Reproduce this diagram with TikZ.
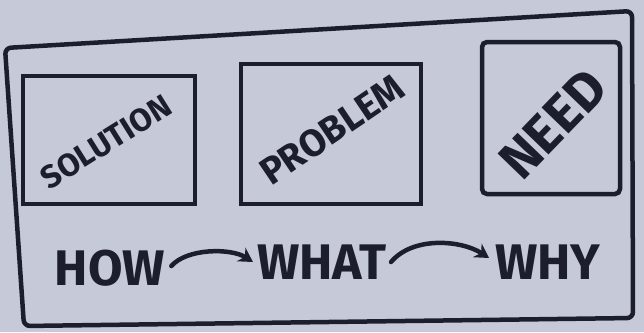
\documentclass[tikz,border=0pt]{standalone}
\usepackage{fontspec}
\setmainfont{Fira Sans}
\usetikzlibrary{arrows.meta}
\definecolor{paper}{HTML}{C6CAD8}
\definecolor{ink}{HTML}{1C1E2E}
\tikzset{
  ink line/.style={draw=ink, line width=4.5pt, line cap=round, line join=round},
  boxlabel/.style={text=ink, inner sep=0pt},
  rowlabel/.style={text=ink, inner sep=0pt, font=\bfseries\fontsize{50}{52}\selectfont},
  flow/.style={ink line, -{Stealth[length=14pt,width=16pt]}},
}
\begin{document}
\begin{tikzpicture}[x=1pt,y=-1pt]
\fill[paper] (0,0) rectangle (644,332);
\useasboundingbox (0,0) rectangle (644,332);
% outer frame
\draw[ink line, rounded corners=6pt] (5,48) -- (632,11) -- (633,318) -- (24,326) -- cycle;
% boxes
\node[draw=ink, line width=4.5pt, minimum width=172pt, minimum height=128pt] (solbox) at (109,140) {};
\node[draw=ink, line width=4.5pt, minimum width=180pt, minimum height=140pt] (probbox) at (331,134) {};
\node[draw=ink, line width=4.5pt, minimum width=138pt, minimum height=152pt, rounded corners=5pt] (needbox) at (551,118) {};
\node[boxlabel, rotate=32, font=\bfseries\fontsize{32}{34}\selectfont] (sol) at (106,142) {SOLUTION};
\node[boxlabel, rotate=34, font=\bfseries\fontsize{38}{40}\selectfont] (prob) at (332,130) {PROBLEM};
\node[boxlabel, rotate=46, font=\bfseries\fontsize{54}{56}\selectfont] (need) at (553,124) {NEED};
% bottom row
\node[rowlabel] (how) at (110,268) {HOW};
\node[rowlabel] (what) at (322,262) {WHAT};
\node[rowlabel] (why) at (548,262) {WHY};
\draw[flow] ([xshift=6pt,yshift=2pt]how.east) .. controls +(16,-18) and +(-22,-14) .. ([xshift=-4pt]what.west);
\draw[flow] ([xshift=4pt]what.east) .. controls +(22,-26) and +(-28,-18) .. ([xshift=-6pt,yshift=4pt]why.west);
\end{tikzpicture}
\end{document}
